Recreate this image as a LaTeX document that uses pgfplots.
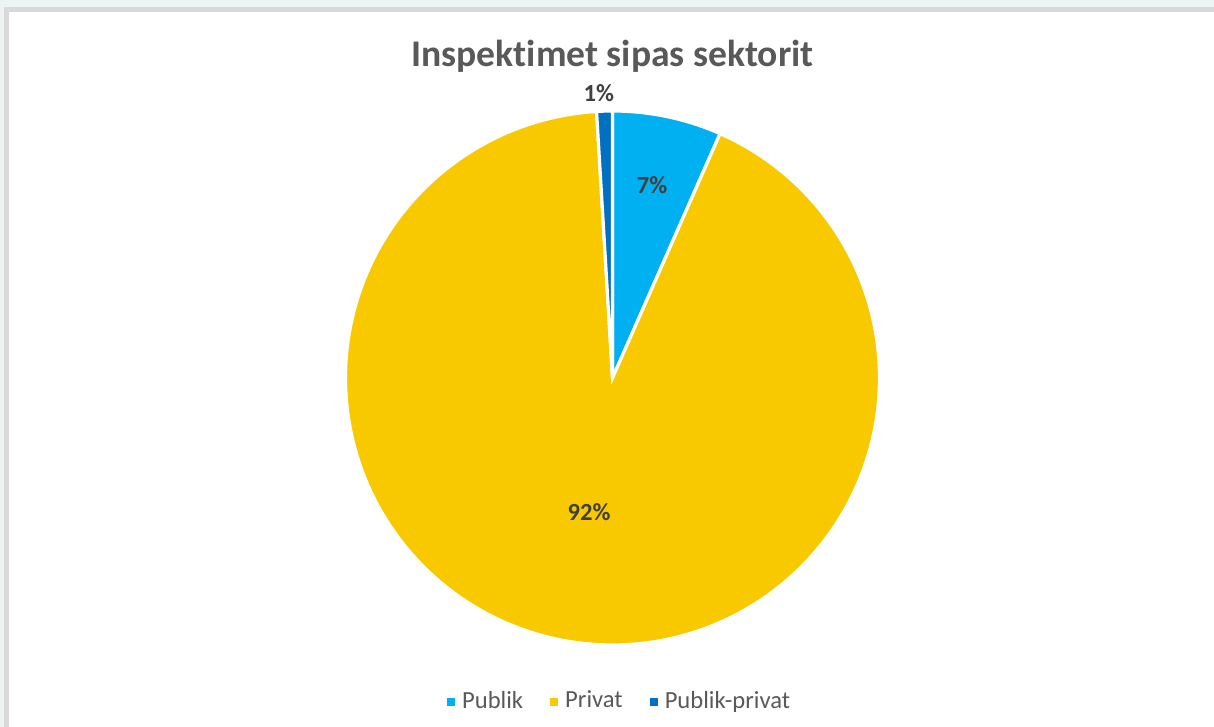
\documentclass[border=0pt]{standalone}
\usepackage{pgfplots}
\pgfplotsset{compat=1.18}
\usepackage{fontspec}
\setmainfont{Carlito}[RawFeature=-liga]
\definecolor{pub}{RGB}{0,176,240}
\definecolor{priv}{RGB}{249,201,0}
\definecolor{pp}{RGB}{0,112,192}
\definecolor{bgc}{RGB}{238,243,243}
\definecolor{frame}{RGB}{217,217,217}
\definecolor{ttl}{RGB}{89,89,89}
\definecolor{lbl}{RGB}{64,64,64}
% shares (percent)
\def\vPub{6.6}
\def\vPriv{92.45}
\def\vPP{0.95}
\pgfmathsetmacro{\aA}{90}
\pgfmathsetmacro{\aB}{90-3.6*\vPub}
\pgfmathsetmacro{\aC}{\aB-3.6*\vPriv}
\pgfmathsetmacro{\aD}{\aC-3.6*\vPP}
\begin{document}
\begin{tikzpicture}[x=1cm,y=1cm]
\useasboundingbox (0,0) rectangle (12.14,7.27);
\fill[bgc] (0,0) rectangle (12.14,7.27);
\fill[white] (0.065,0) rectangle (12.14,7.175);
\draw[frame,line width=1.5pt] (0.065,-0.1) -- (0.065,7.175) -- (12.3,7.175);
\node[font=\bfseries\fontsize{10.7}{12}\selectfont,text=ttl] at (6.125,6.71) {Inspektimet sipas sektorit};
\begin{axis}[
  scale only axis, width=5.34cm, height=5.34cm,
  xmin=-1,xmax=1,ymin=-1,ymax=1,
  at={(6.125cm,3.49cm)}, anchor=center,
  hide axis, clip=false,
  legend columns=-1,
  legend style={at={(0.518,-0.107)},anchor=center,draw=none,fill=none,
    font=\fontsize{7}{8}\selectfont,text=ttl,
    /tikz/every even column/.append style={column sep=0.2cm}},
  legend image code/.code={\fill[#1,draw=none] (-0.02cm,-0.04cm) rectangle (0.06cm,0.04cm);},
]
\addplot[fill=pub,draw=white,line width=0.9pt,domain=\aB:\aA,samples=40,variable=\t]
  ({cos(\t)},{sin(\t)}) -- (axis cs:0,0) -- cycle;
\addlegendentry{Publik}
\addplot[fill=priv,draw=white,line width=0.9pt,domain=\aC:\aB,samples=200,variable=\t]
  ({cos(\t)},{sin(\t)}) -- (axis cs:0,0) -- cycle;
\addlegendentry{Privat}
\addplot[fill=pp,draw=white,line width=0.9pt,domain=\aD:\aC,samples=10,variable=\t]
  ({cos(\t)},{sin(\t)}) -- (axis cs:0,0) -- cycle;
\addlegendentry{Publik-privat}
\node[font=\bfseries\fontsize{7}{8}\selectfont,text=lbl] at (axis cs:0.148,0.723) {7\%};
\node[font=\bfseries\fontsize{7}{8}\selectfont,text=lbl] at (axis cs:-0.088,-0.502) {92\%};
\node[font=\bfseries\fontsize{7}{8}\selectfont,text=lbl] at (axis cs:-0.051,1.067) {1\%};
\end{axis}
\end{tikzpicture}
\end{document}
